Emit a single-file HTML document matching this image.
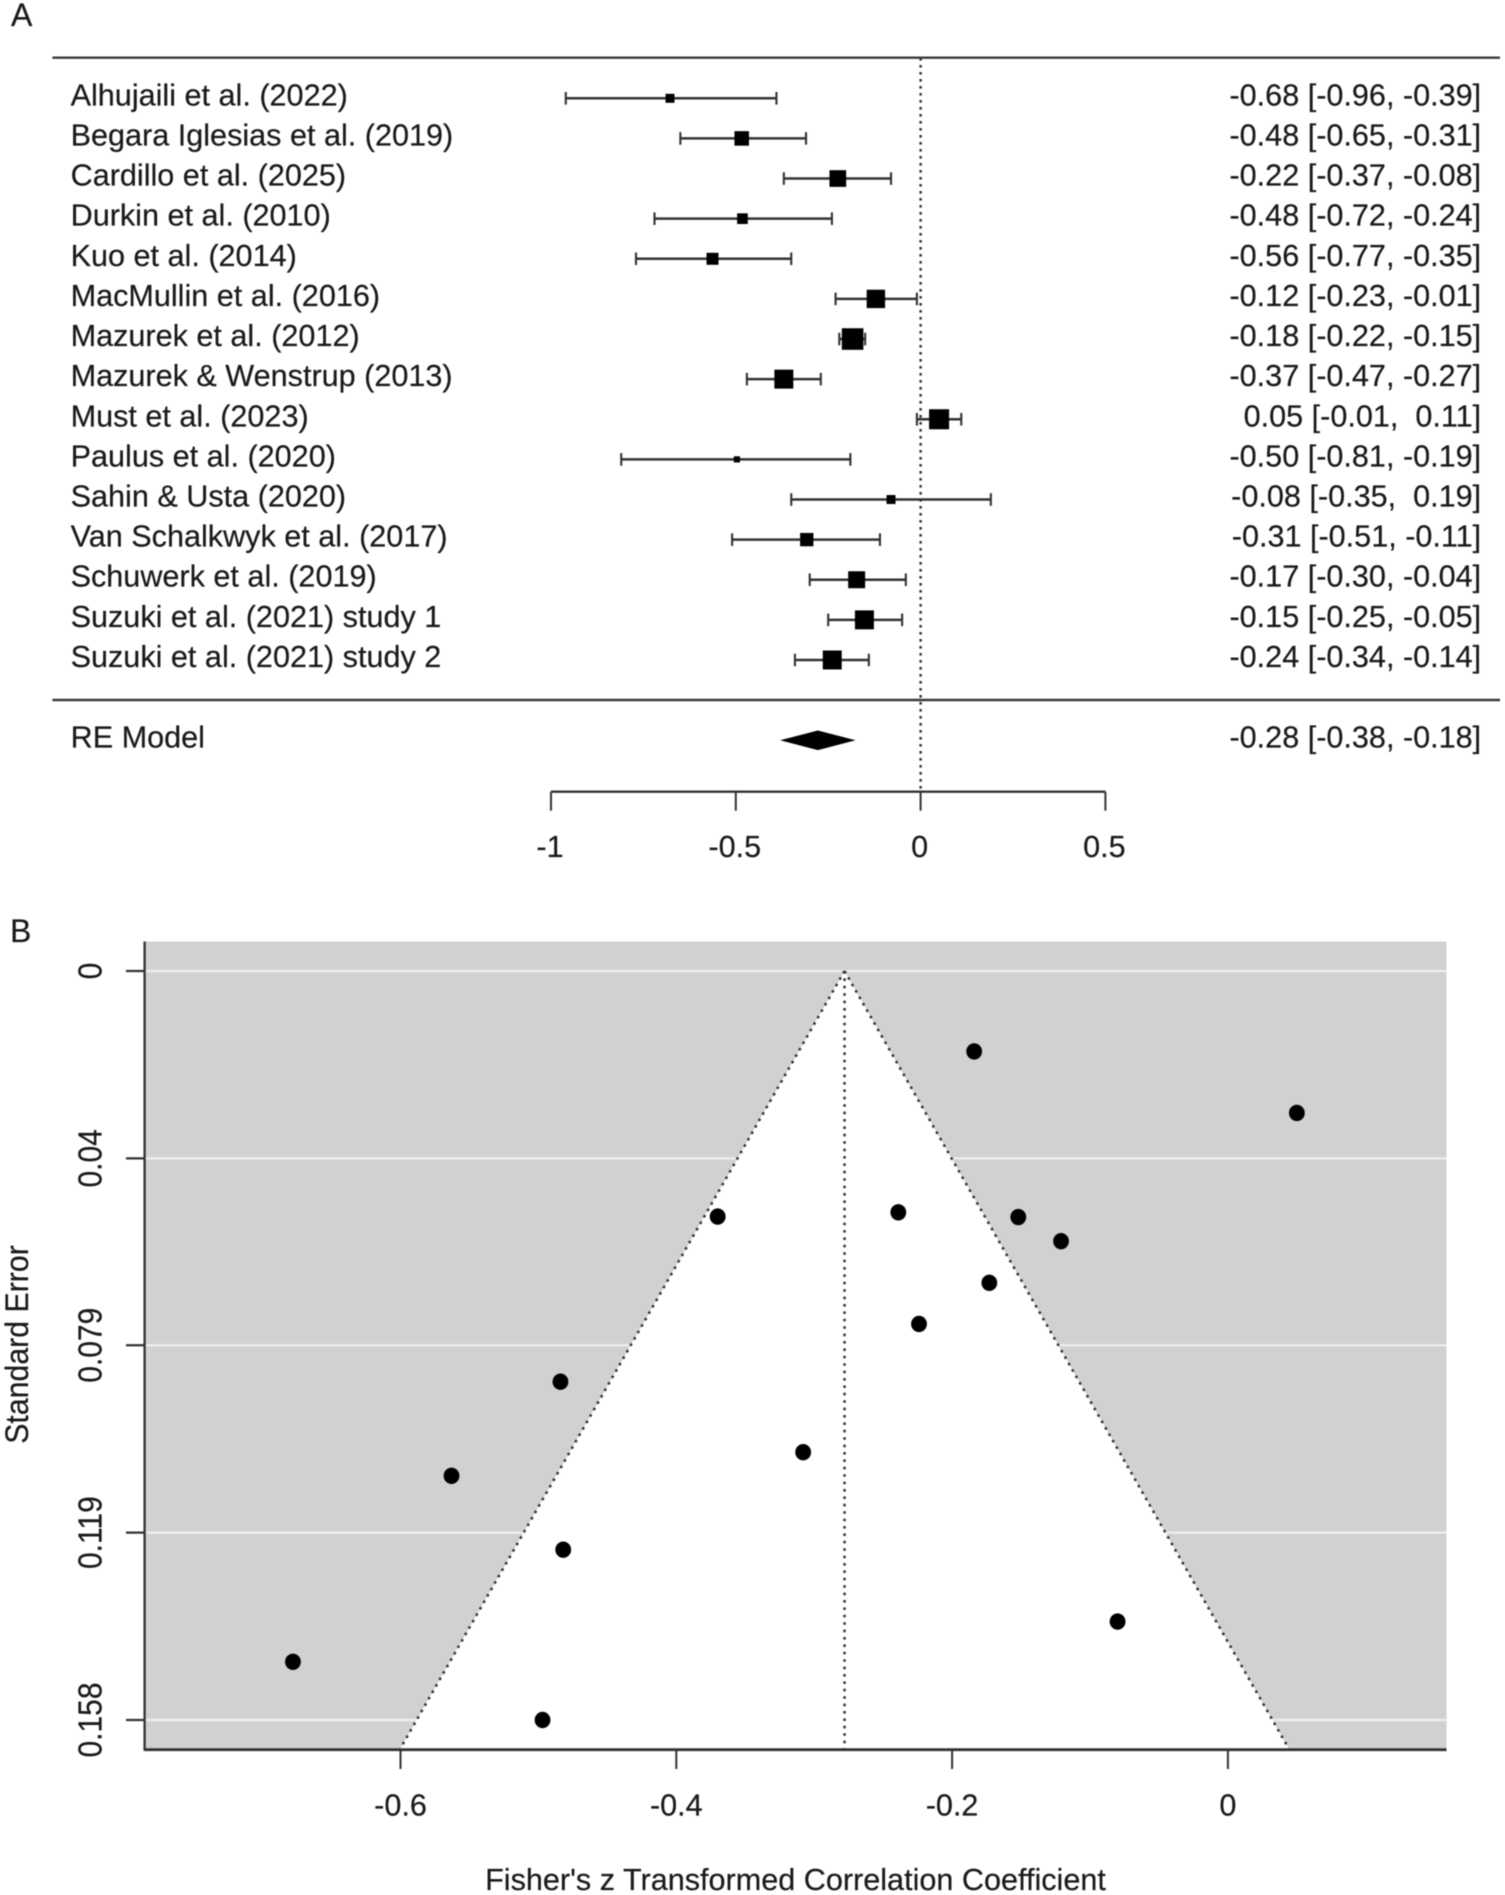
<!DOCTYPE html>
<html lang="en">
<head>
<meta charset="utf-8">
<title>Forest plot and funnel plot</title>
<style>
html,body{margin:0;padding:0;background:#fff;width:1505px;height:1895px;overflow:hidden}
svg{display:block;filter:blur(0.5px)}
text{font-family:"Liberation Sans",Arial,sans-serif;fill:#1a1a1a;stroke:#1a1a1a;stroke-width:0.2;white-space:pre}
</style>
</head>
<body>
<svg id="figure" xmlns="http://www.w3.org/2000/svg" width="1505" height="1895" viewBox="0 0 1505 1895">
  <rect x="0" y="0" width="1505" height="1895" fill="#fff"/>
  <text x="11" y="26" font-size="32">A</text>
  <text x="10" y="942" font-size="32">B</text>
  <g id="forest"></g>
  <g id="funnel"></g>
  <text x="795.5" y="1890" font-size="30.6" text-anchor="middle">Fisher's z Transformed Correlation Coefficient</text>
  <text transform="translate(28,1344.5) rotate(-90) scale(1,1.08)" font-size="30.3" text-anchor="middle">Standard Error</text>
</svg>
<script>
const studies = ["Alhujaili et al. (2022)","Begara Iglesias et al. (2019)","Cardillo et al. (2025)","Durkin et al. (2010)","Kuo et al. (2014)","MacMullin et al. (2016)","Mazurek et al. (2012)","Mazurek & Wenstrup (2013)","Must et al. (2023)","Paulus et al. (2020)","Sahin & Usta (2020)","Van Schalkwyk et al. (2017)","Schuwerk et al. (2019)","Suzuki et al. (2021) study 1","Suzuki et al. (2021) study 2"];
const effects = [-0.678,-0.484,-0.224,-0.482,-0.563,-0.121,-0.184,-0.370,0.05,-0.497,-0.080,-0.308,-0.173,-0.152,-0.239];
const ciLower = [-0.96,-0.65,-0.37,-0.72,-0.77,-0.23,-0.22,-0.47,-0.01,-0.81,-0.35,-0.51,-0.30,-0.25,-0.34];
const ciUpper = [-0.39,-0.31,-0.08,-0.24,-0.35,-0.01,-0.15,-0.27,0.11,-0.19,0.19,-0.11,-0.04,-0.05,-0.14];
const weights = [1.9,5.0,6.6,2.7,3.4,8.0,11.0,8.5,9.5,0.9,1.9,4.2,6.8,8.5,8.5];
const standardErrors = [0.146,0.0868,0.0746,0.1223,0.1067,0.0571,0.017,0.0519,0.030,0.1583,0.1375,0.1017,0.0659,0.052,0.051];
const pooledEstimate = -0.278;
const pooledLower = -0.38;
const pooledUpper = -0.176;
const forestTicks = [-1,-0.5,0,0.5];
const forestTickLabels = ["-1","-0.5","0","0.5"];
const funnelXTicks = [-0.6,-0.4,-0.2,0];
const funnelXTickLabels = ["-0.6","-0.4","-0.2","0"];
const funnelYTicks = [0,0.0396,0.0791,0.1187,0.1583];
const funnelYTickLabels = ["0","0.04","0.079","0.119","0.158"];
const funnelSeBottom = 0.1646;

const NS = "http://www.w3.org/2000/svg";
const LINE = "#333";
const FONT = 30.6;
function mk(tag, attrs, parent, txt) {
  const el = document.createElementNS(NS, tag);
  for (const k in attrs) el.setAttribute(k, attrs[k]);
  if (txt !== undefined) el.textContent = txt;
  parent.appendChild(el);
  return el;
}
const fx = v => 920.6 + 369.6 * v;
const rowY = i => 98.3 + 40.12 * i;
const markSize = w => 6.5 * Math.sqrt(w);
const zx = v => 1227.9 + 1379 * v;
const sy = s => 971 + 4731.5 * s;
const fmt = v => (v < 0 ? "" : " ") + v.toFixed(2);
const ciText = (e, lo, hi) => e.toFixed(2) + " [" + lo.toFixed(2) + ", " + fmt(hi) + "]";

/* ---------- forest plot ---------- */
const forest = document.getElementById("forest");
const forestLeft = 52.4, forestRight = 1500, axisY = 791.7;

const topRule = mk("line", {x1:forestLeft,x2:forestRight,y1:57.7,y2:57.7,stroke:"#3a3a3a","stroke-width":2.4}, forest);


const bottomRule = mk("line", {x1:forestLeft,x2:forestRight,y1:700,y2:700,stroke:"#3a3a3a","stroke-width":2.4}, forest);


const zeroLine = mk("line", {x1:fx(0),x2:fx(0),y1:58,y2:axisY,stroke:"#333","stroke-width":2.4,"stroke-dasharray":"2.6 4.4"}, forest);



studies.forEach((name, i) => {
  const y = rowY(i);
  const row = mk("g", {}, forest);
  
  
  const label = mk("text", {x:70.6,y:y+7,"font-size":FONT}, row, name);
  
  
  const ci = mk("line", {x1:fx(ciLower[i]),x2:fx(ciUpper[i]),y1:y,y2:y,stroke:LINE,"stroke-width":2.5}, row);
  
  
  const capLow = mk("line", {x1:fx(ciLower[i]),x2:fx(ciLower[i]),y1:y-6.3,y2:y+6.3,stroke:LINE,"stroke-width":2.1}, row);
  
  
  const capHigh = mk("line", {x1:fx(ciUpper[i]),x2:fx(ciUpper[i]),y1:y-6.3,y2:y+6.3,stroke:LINE,"stroke-width":2.1}, row);
  
  
  const s = markSize(weights[i]);
  const box = mk("rect", {x:fx(effects[i])-s/2,y:y-s/2,width:s,height:s,fill:"#000"}, row);
  
  
  const val = mk("text", {x:1481.2,y:y+7,"font-size":FONT,"text-anchor":"end"}, row, ciText(effects[i], ciLower[i], ciUpper[i]));
  
  
});

const reLabel = mk("text", {x:70.6,y:747.3,"font-size":FONT}, forest, "RE Model");


const dy = 740.3;
const diamond = mk("polygon", {points:[[fx(pooledLower),dy],[fx(pooledEstimate),dy-9.8],[fx(pooledUpper),dy],[fx(pooledEstimate),dy+9.8]].join(" "),fill:"#000"}, forest);


const reValue = mk("text", {x:1481.2,y:747.3,"font-size":FONT,"text-anchor":"end"}, forest, ciText(pooledEstimate, pooledLower, pooledUpper));



const fAxis = mk("line", {x1:fx(forestTicks[0]),x2:fx(forestTicks[forestTicks.length-1]),y1:axisY,y2:axisY,stroke:LINE,"stroke-width":2.4}, forest);


forestTicks.forEach((t, i) => {
  const tick = mk("line", {x1:fx(t),x2:fx(t),y1:axisY,y2:810.7,stroke:LINE,"stroke-width":2}, forest);
  
  
  const lab = mk("text", {x:fx(t)-1,y:857,"font-size":FONT,"text-anchor":"middle"}, forest, forestTickLabels[i]);
  
  
});

/* ---------- funnel plot ---------- */
const funnel = document.getElementById("funnel");
const pLeft = 144.6, pRight = 1446.5, pTop = 941.5, pBottom = 1749.7;

const panel = mk("rect", {x:pLeft,y:pTop,width:pRight-pLeft,height:pBottom-pTop,fill:"#d1d1d1"}, funnel);


funnelYTicks.forEach(t => {
  const g = mk("line", {x1:pLeft,x2:pRight,y1:sy(t),y2:sy(t),stroke:"#eeeeee","stroke-width":2.2}, funnel);
  
  
});
const halfWidth = 1.96 * funnelSeBottom;
const apexX = zx(pooledEstimate), apexY = sy(0);
const leftX = zx(pooledEstimate - halfWidth), rightX = zx(pooledEstimate + halfWidth);
const region = mk("polygon", {points:[[apexX,apexY],[rightX,pBottom],[leftX,pBottom]].join(" "),fill:"#fff"}, funnel);


const dash = {stroke:"#333","stroke-width":2.5,"stroke-dasharray":"2.6 4.8"};
const edgeL = mk("line", Object.assign({x1:apexX,y1:apexY,x2:leftX,y2:pBottom}, dash), funnel);


const edgeR = mk("line", Object.assign({x1:apexX,y1:apexY,x2:rightX,y2:pBottom}, dash), funnel);


const center = mk("line", Object.assign({x1:apexX,y1:apexY,x2:apexX,y2:pBottom}, dash), funnel);



effects.forEach((z, i) => {
  const dot = mk("ellipse", {cx:zx(z),cy:sy(standardErrors[i]),rx:7.9,ry:8.2,fill:"#000"}, funnel);
  
  
});

const yAxis = mk("line", {x1:pLeft,x2:pLeft,y1:pTop,y2:pBottom+1,stroke:"#333","stroke-width":2.3}, funnel);


const xAxis = mk("line", {x1:pLeft,x2:pRight,y1:pBottom,y2:pBottom,stroke:"#333","stroke-width":2.8}, funnel);



funnelXTicks.forEach((t, i) => {
  const tick = mk("line", {x1:zx(t),x2:zx(t),y1:pBottom,y2:1769,stroke:LINE,"stroke-width":2}, funnel);
  
  
  const lab = mk("text", {x:zx(t),y:1815.7,"font-size":FONT,"text-anchor":"middle"}, funnel, funnelXTickLabels[i]);
  
  
});
funnelYTicks.forEach((t, i) => {
  const tick = mk("line", {x1:126,x2:pLeft,y1:sy(t),y2:sy(t),stroke:LINE,"stroke-width":2.2}, funnel);
  
  
  const lab = mk("text", {transform:"translate(101.7," + sy(t) + ") rotate(-90) scale(1,1.1)","font-size":30,"text-anchor":"middle"}, funnel, funnelYTickLabels[i]);
  
  
});
</script>
</body>
</html>
